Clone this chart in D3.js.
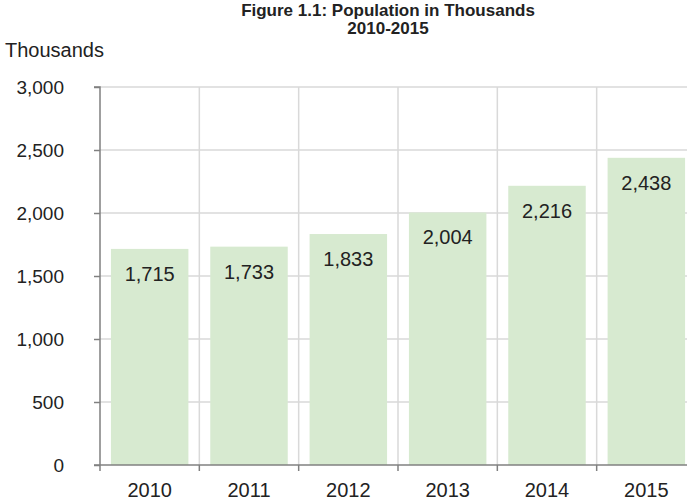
<!DOCTYPE html>
<html>
<head>
<meta charset="utf-8">
<script src="https://cdn.jsdelivr.net/npm/d3@7"></script>
<style>
  html, body { margin: 0; padding: 0; background: #fff; }
  svg { display: block; font-family: "Liberation Sans", Arial, sans-serif; }
</style>
</head>
<body>
<div id="chart"></div>
<script>
// population data (thousands)
const years = ["2010", "2011", "2012", "2013", "2014", "2015"];
const population = [1715, 1733, 1833, 2004, 2216, 2438];
const yTicks = [0, 500, 1000, 1500, 2000, 2500, 3000];

const width = 687, height = 504;
const margin = { top: 87, right: -9, bottom: 39, left: 100 };

const svg = d3.select("#chart").append("svg")
    .attr("width", width)
    .attr("height", height);

const x = d3.scaleBand()
    .domain(years)
    .range([margin.left, width - margin.right])
    .paddingInner(0.22)
    .paddingOuter(0.11);

const y = d3.scaleLinear()
    .domain([0, 3000])
    .range([height - margin.bottom, margin.top]);

const fmt = d3.format(",");
const step = x.step();

// horizontal gridlines
svg.append("g")
    .selectAll("line")
    .data(yTicks.filter(d => d > 0))
    .join("line")
    .attr("x1", margin.left)
    .attr("x2", width - margin.right)
    .attr("y1", d => y(d))
    .attr("y2", d => y(d))
    .attr("stroke", "#d9d9d9")
    .attr("stroke-width", 1.5);

// vertical gridlines between categories
svg.append("g")
    .selectAll("line")
    .data(years.slice(1))
    .join("line")
    .attr("x1", d => x(d) - x.paddingInner() * step / 2)
    .attr("x2", d => x(d) - x.paddingInner() * step / 2)
    .attr("y1", y(0))
    .attr("y2", y(3000))
    .attr("stroke", "#d9d9d9")
    .attr("stroke-width", 1.5);

// bars
svg.append("g")
    .selectAll("rect")
    .data(years)
    .join("rect")
    .attr("x", d => x(d))
    .attr("width", x.bandwidth())
    .attr("y", (d, i) => y(population[i]))
    .attr("height", (d, i) => y(0) - y(population[i]))
    .attr("fill", "#d7ead0");

// value labels
svg.append("g")
    .selectAll("text")
    .data(years)
    .join("text")
    .attr("x", d => x(d) + x.bandwidth() / 2)
    .attr("y", (d, i) => y(population[i]) + 32)
    .attr("text-anchor", "middle")
    .attr("font-size", 20)
    .attr("fill", "#222")
    .text((d, i) => fmt(population[i]));

// y axis
const yAxis = svg.append("g")
    .attr("transform", `translate(${margin.left},0)`)
    .call(d3.axisLeft(y).tickValues(yTicks).tickFormat(fmt).tickSize(6).tickPadding(30));
yAxis.selectAll("path, line").attr("stroke", "#808080").attr("stroke-width", 1.5);
yAxis.select(".domain").attr("d", `M-6,${y(3000)}H0V${y(0)}`);
yAxis.selectAll("text").attr("font-size", 19).attr("fill", "#222")
    .attr("font-family", "Liberation Sans, Arial, sans-serif");

// x axis
const xAxis = svg.append("g")
    .attr("transform", `translate(0,${y(0)})`)
    .call(d3.axisBottom(x).tickSize(0).tickPadding(18));
xAxis.select(".domain")
    .attr("d", `M${margin.left - 6},0H${width}`)
    .attr("stroke", "#808080").attr("stroke-width", 1.5);
xAxis.selectAll("text").attr("font-size", 20).attr("fill", "#222")
    .attr("font-family", "Liberation Sans, Arial, sans-serif");

// x tick marks on category boundaries
svg.append("g")
    .selectAll("line")
    .data(d3.range(years.length))
    .join("line")
    .attr("x1", i => margin.left + i * step)
    .attr("x2", i => margin.left + i * step)
    .attr("y1", y(0))
    .attr("y2", y(0) + 6)
    .attr("stroke", "#808080")
    .attr("stroke-width", 1.5);

// unit label
svg.append("text")
    .attr("x", 5)
    .attr("y", 57)
    .attr("font-size", 20)
    .attr("fill", "#222")
    .text("Thousands");

// title
const title = svg.append("text")
    .attr("x", 388)
    .attr("y", 16)
    .attr("text-anchor", "middle")
    .attr("font-size", 17)
    .attr("font-weight", "bold")
    .attr("fill", "#222");
title.append("tspan").attr("x", 388).text("Figure 1.1: Population in Thousands");
title.append("tspan").attr("x", 388).attr("dy", 18).text("2010-2015");
</script>
</body>
</html>
